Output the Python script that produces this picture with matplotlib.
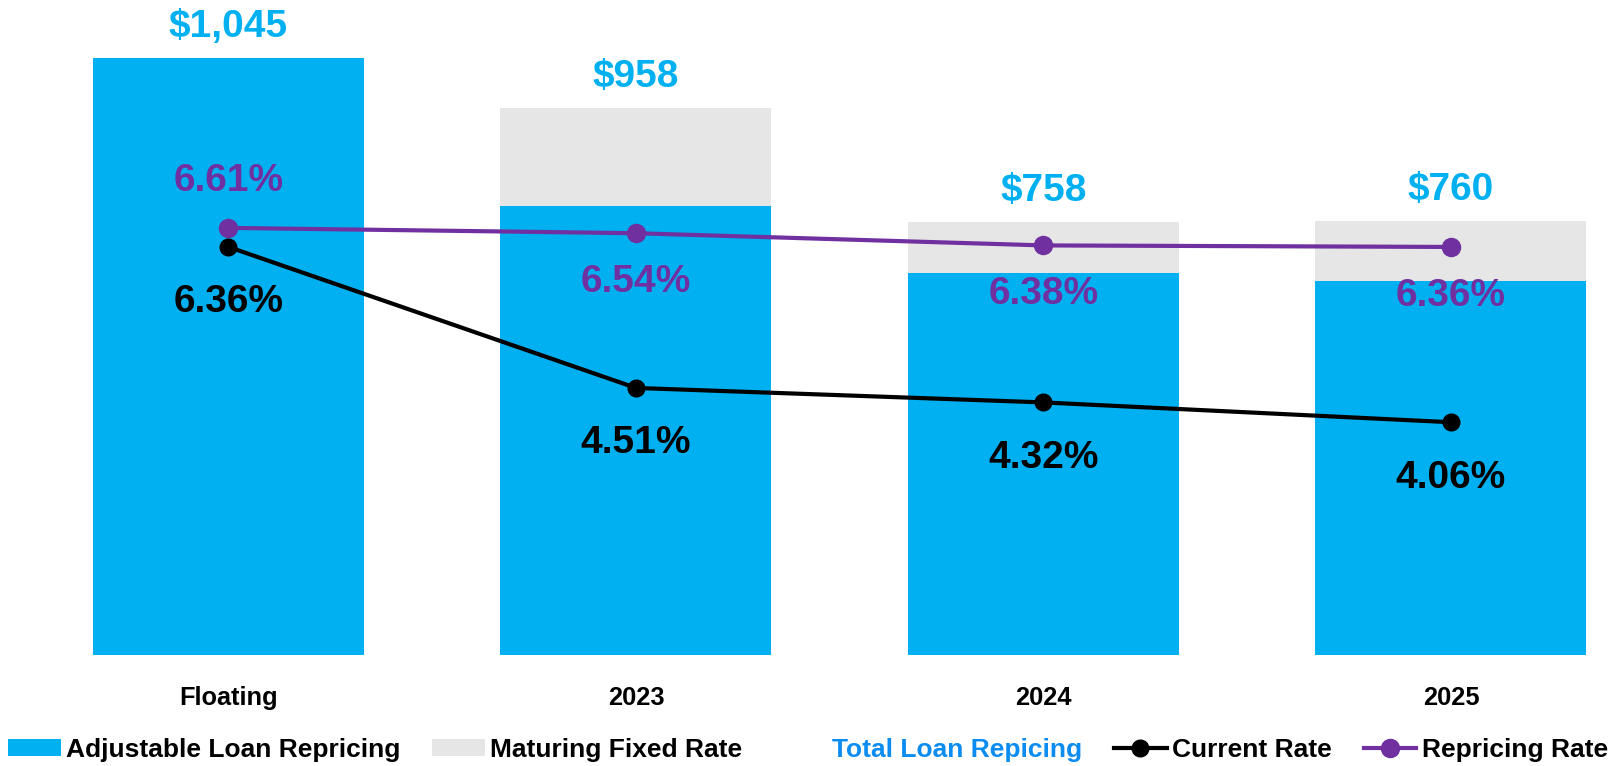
import matplotlib
matplotlib.use("Agg")
import matplotlib.pyplot as plt
from matplotlib.patches import Patch
from matplotlib.lines import Line2D
import numpy as np

# --- Data ---
categories = ["Floating", "2023", "2024", "2025"]
adjustable = [1045, 786, 669, 655]
maturing_fixed = [0, 172, 89, 105]
totals = [1045, 958, 758, 760]
current_rate = [6.36, 4.51, 4.32, 4.06]
repricing_rate = [6.61, 6.54, 6.38, 6.36]

# --- Styling ---
BLUE = "#00B0F0"
GRAY = "#E6E6E6"
PURPLE = "#7030A0"
TOTAL_BLUE = "#0A8CF0"

# no Arial Narrow here, Liberation Sans sized to match the widths
plt.rcParams["font.family"] = ["Liberation Sans", "DejaVu Sans"]
plt.rcParams["font.weight"] = "bold"
BIG = 28
TICK = 18.3
LEG = 19

W, H = 1616, 766
fig = plt.figure(figsize=(W / 100, H / 100), dpi=100)
ax = fig.add_axes([0, 111 / H, 1, 655 / H])

x = np.arange(len(categories))
bar_w = 0.665
ax.bar(x, adjustable, width=bar_w, color=BLUE, zorder=2)
ax.bar(x, maturing_fixed, width=bar_w, bottom=adjustable, color=GRAY, zorder=2)

ax.set_xlim(-0.5607, 3.405)
ax.set_ylim(0, 1146.5)
ax.set_xticks(x)
ax.set_xticklabels(categories, fontsize=TICK, fontweight="bold")
ax.tick_params(axis="x", length=0, pad=22)
ax.set_yticks([])
for s in ax.spines.values():
    s.set_visible(False)

for xi, t in zip(x, totals):
    ax.annotate(f"${t:,}", (xi, t), xytext=(0, 22), textcoords="offset points",
                ha="center", va="center", fontsize=BIG, fontweight="bold", color=BLUE)

ax2 = ax.twinx()
ax2.set_ylim(1.006, 9.60)
ax2.set_yticks([])
for s in ax2.spines.values():
    s.set_visible(False)

ax2.plot(x, repricing_rate, color=PURPLE, lw=3, marker="o", ms=13, zorder=3)
ax2.plot(x, current_rate, color="black", lw=3, marker="o", ms=12, zorder=4)

for i, (xi, r) in enumerate(zip(x, repricing_rate)):
    dy = 34 if i == 0 else -35
    ax2.annotate(f"{r:.2f}%", (xi, r), xytext=(0, dy), textcoords="offset points",
                 ha="center", va="center", fontsize=BIG, fontweight="bold", color=PURPLE)
for xi, r in zip(x, current_rate):
    ax2.annotate(f"{r:.2f}%", (xi, r), xytext=(0, -40), textcoords="offset points",
                 ha="center", va="center", fontsize=BIG, fontweight="bold", color="black")

handles = [
    Patch(facecolor=BLUE, edgecolor="none"),
    Patch(facecolor=GRAY, edgecolor="none"),
    Line2D([], [], color="none"),
    Line2D([], [], color="black", lw=3, marker="o", ms=12),
    Line2D([], [], color=PURPLE, lw=3, marker="o", ms=13),
]
labels = ["Adjustable Loan Repricing", "Maturing Fixed Rate", "Total Loan Repicing",
          "Current Rate", "Repricing Rate"]
leg = fig.legend(handles, labels, loc="center", bbox_to_anchor=(0.5, 16 / H), ncol=5,
                 frameon=False, fontsize=LEG, handlelength=2.0, handleheight=0.58,
                 handletextpad=0.2, columnspacing=1.2, borderaxespad=0, borderpad=0)
for txt in leg.get_texts():
    txt.set_fontweight("bold")
leg.get_texts()[2].set_color(TOTAL_BLUE)

fig.savefig("out.png", dpi=100)
